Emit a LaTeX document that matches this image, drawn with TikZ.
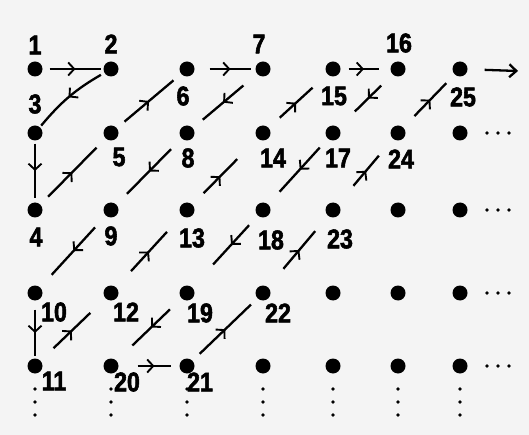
\documentclass[tikz,border=0pt]{standalone}
\usepackage{fontspec}
\setmainfont{Liberation Sans}[FakeStretch=0.86,BoldFeatures={FakeBold=2}]
\usetikzlibrary{arrows.meta,decorations.markings}
\definecolor{paper}{RGB}{244,244,244}
\tikzset{
 dot/.style={circle,fill=black,inner sep=0pt,minimum size=15pt},
 num/.style={font=\fontsize{27}{27}\selectfont\bfseries,inner sep=0pt},
 walk/.style 2 args={shorten <=#1,shorten >=#2,postaction={decorate},
   decoration={markings,
     mark=at position {0.5*\pgfdecoratedpathlength+0.5*(#1)-0.5*(#2)} with
     {\arrow{Straight Barb[length=6pt,width=13pt,line width=1.9pt]}}}},
}

\begin{document}
\begin{tikzpicture}[x=1pt,y=-1pt,line width=2.3pt]
 \useasboundingbox[fill=paper] (0,0) rectangle (529,435);
 % numbered dots and their labels
 \foreach \n/\x/\y/\tx/\ty in {1/35/69/35/45,2/111/69/111/44,3/35/133/35/104,
   4/35/210/36/237,5/111/133/119/157,6/187/69/183/96,7/263/69/259/44,
   8/187/133/188/158,9/111/210/111/236,10/35/293/54/312,11/35/366/54/381,
   12/111/293/126/312,13/187/210/192/238,14/263/133/273/158,15/333/69/334/96,
   16/398/69/399/43,17/333/133/338/158,18/263/210/271/240,19/187/293/200/313,
   20/111/366/127/382,21/187/366/200/382,22/263/293/278/313,23/333/210/340/239,
   24/398/133/401/159,25/460/69/463/97}{%
   \node[dot] (n\n) at (\x,\y) {};
   \node[num] (t\n) at (\tx,\ty) {\n};
 }
 % the rest of the grid
 \foreach \x/\y [count=\i] in {460/133,398/210,460/210,333/293,398/293,
   460/293,263/366,333/366,398/366,460/366}
   \node[dot] (g\i) at (\x,\y) {};
 % ellipses
 \foreach \y in {133,210,293,366}
   \foreach \x in {487,498,509} \fill (\x,\y) circle[radius=1.8];
 \foreach \x in {35,111,187,263,333,398,460}
   \foreach \y in {389,402,415} \fill (\x,\y) circle[radius=1.8];
 % the path through the grid
 \draw[walk={3pt}{1pt}] (n2) to[bend right=10] (n3);
 \foreach \a/\b/\s/\e in {1/2/6pt/1pt,3/4/2pt/3pt,4/5/10pt/12pt,5/6/9pt/9pt,
   6/7/14pt/3pt,7/8/17pt/12pt,8/9/14pt/14pt,9/10/15pt/16pt,10/11/8pt/1pt,
   11/12/17pt/20pt,12/13/21pt/21pt,13/14/15pt/28pt,14/15/14pt/19pt,
   15/16/7pt/10pt,16/17/15pt/22pt,17/18/11pt/16pt,18/19/12pt/30pt,
   19/20/15pt/21pt,20/21/18pt/7pt,21/22/9pt/8pt,22/23/23pt/19pt,
   23/24/23pt/21pt,24/25/15pt/11pt}
   \draw[walk={\s}{\e}] (n\a) -- (n\b);
 \coordinate (more) at (518,71);
 \draw[-{Straight Barb[length=7pt,width=13pt]},shorten <=16pt] (n25) -- (more);
\end{tikzpicture}
\end{document}
